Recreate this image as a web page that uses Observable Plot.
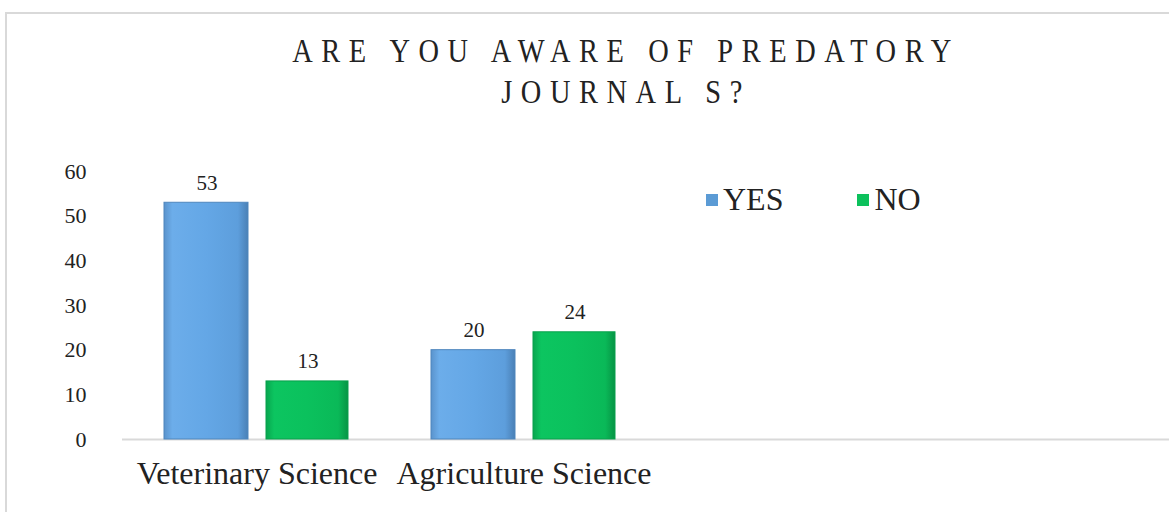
<!DOCTYPE html>
<html>
<head>
<meta charset="utf-8">
<script src="https://cdn.jsdelivr.net/npm/d3@7"></script>
<script src="https://cdn.jsdelivr.net/npm/@observablehq/plot@0.6"></script>
<style>
  html, body { margin: 0; padding: 0; background: #fff; }
  #wrap { position: relative; width: 1169px; height: 512px; overflow: hidden; font-family: "Liberation Serif", "DejaVu Serif", serif; }
  #frame { position: absolute; left: 5px; top: 12px; width: 1200px; height: 600px; border-top: 2px solid #d9d9d9; border-left: 2px solid #d9d9d9; }
  #title { position: absolute; left: 0; width: 1252px; top: 31px; text-align: center; font-size: 33px; letter-spacing: 10px; line-height: 41px; color: #222; transform: scaleX(0.86); transform-origin: 626px 0; }
  #chart { position: absolute; left: 0; top: 0; }
  #legend { position: absolute; left: 706px; top: 181px; }
  #legend span { margin-right: 74px; font-size: 32px; color: #222; font-family: "Liberation Serif", serif; }
  #legend span svg { margin-right: 5px; }
</style>
</head>
<body>
<div id="wrap">
  <div id="frame"></div>
  <div id="chart"></div>
  <div id="title">ARE YOU AWARE OF PREDATORY<br>JOURNAL S?</div>
  <div id="legend"></div>
</div>
<script>
const categories = ["Veterinary Science", "Agriculture Science"];
const seriesNames = ["YES", "NO"];
const yesValues = [53, 20];
const noValues = [13, 24];
const yTicks = [0, 10, 20, 30, 40, 50, 60];
const seriesColors = ["#5b9bd5", "#0cc15c"];

const yesData = categories.map((c, i) => ({category: c, series: "YES", value: yesValues[i]}));
const noData = categories.map((c, i) => ({category: c, series: "NO", value: noValues[i]}));

const font = "Liberation Serif, serif";

const chart = Plot.plot({
  width: 1169,
  height: 512,
  marginLeft: 122,
  marginRight: 0,
  marginTop: 171,
  marginBottom: 73,
  style: {fontFamily: font, color: "#222", background: "transparent", overflow: "visible"},
  x: {type: "band", domain: categories, range: [122, 657], padding: 0, label: null},
  y: {domain: [0, 60], label: null},
  marks: [
    Plot.axisX({tickSize: 0, tickPadding: 22, fontSize: 32, fontFamily: font, label: null}),
    Plot.axisY({ticks: yTicks, tickSize: 0, tickPadding: 36, fontSize: 22, fontFamily: font, label: null}),
    Plot.ruleY([0], {stroke: "#d9d9d9", strokeWidth: 2}),
    Plot.barY(yesData, {x: "category", y: "value", fill: "url(#gradBlue)", stroke: "#4f86bd", strokeWidth: 1, insetLeft: 41, insetRight: 142}),
    Plot.barY(noData, {x: "category", y: "value", fill: "url(#gradGreen)", stroke: "#08a04c", strokeWidth: 1, insetLeft: 143, insetRight: 42}),
    Plot.text(yesData, {x: "category", y: "value", text: d => String(d.value), dx: -50, dy: -13, lineAnchor: "bottom", fontSize: 21, fontFamily: font, fill: "#222"}),
    Plot.text(noData, {x: "category", y: "value", text: d => String(d.value), dx: 51, dy: -13, lineAnchor: "bottom", fontSize: 21, fontFamily: font, fill: "#222"})
  ]
});

const defs = d3.select(chart).insert("defs", ":first-child");
function grad(id, stops) {
  const g = defs.append("linearGradient").attr("id", id).attr("x1", "0").attr("x2", "1").attr("y1", "0").attr("y2", "0");
  stops.forEach(([o, c]) => g.append("stop").attr("offset", o).attr("stop-color", c));
}
grad("gradBlue", [["0", "#5a93cc"], ["0.1", "#6cadea"], ["0.5", "#64a7e6"], ["0.88", "#5d9edc"], ["1", "#4a80b6"]]);
grad("gradGreen", [["0", "#08a64f"], ["0.1", "#0cc560"], ["0.5", "#0bc15d"], ["0.88", "#0ab958"], ["1", "#079445"]]);

document.getElementById("chart").appendChild(chart);

const legend = Plot.legend({
  color: {type: "ordinal", domain: seriesNames, range: seriesColors},
  legend: "swatches",
  swatchSize: 12,
  style: {fontFamily: font, fontSize: "32px", color: "#222"}
});
document.getElementById("legend").appendChild(legend);
</script>
</body>
</html>
